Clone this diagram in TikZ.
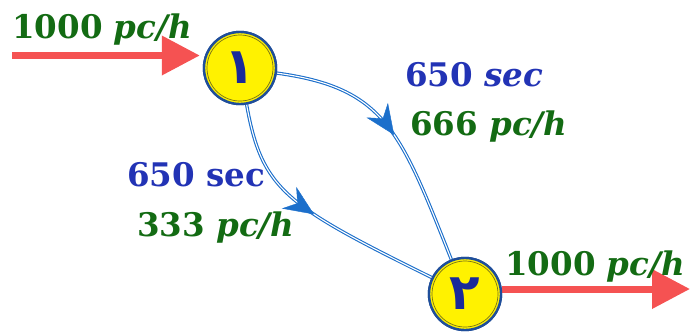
\documentclass[tikz,border=0pt]{standalone}
\usepackage{fontspec}
\setmainfont{DejaVu Serif}
\newfontfamily\arabicfont[Script=Arabic]{DejaVu Sans}
\usetikzlibrary{arrows.meta,decorations.markings}
\definecolor{lblgreen}{HTML}{136B13}
\definecolor{lblblue}{HTML}{2233B5}
\definecolor{edgeblue}{HTML}{1C6FCB}
\definecolor{flowred}{HTML}{F55252}
\definecolor{ringblue}{HTML}{1F4E9A}
\definecolor{digitblue}{HTML}{1A2A9A}
\tikzset{
  lbl/.style={anchor=base west, inner sep=0pt, font=\fontsize{32.5}{36}\selectfont\bfseries},
  junction/.style={circle, fill=yellow, draw=ringblue, line width=2.4pt, minimum size=72pt, inner sep=0pt,
     font=\arabicfont\bfseries\fontsize{50}{54}\selectfont, text=digitblue},
  innerring/.style={draw=olive!80!black, line width=0.7pt},
  edge/.style={draw=edgeblue, line width=1.1pt, double=white, double distance=1.1pt},
  midarrow/.style={decorate, decoration={markings, mark=at position 0.5 with {\arrow[edgeblue]{Stealth[length=30pt,width=26pt,inset=10pt]}}}},
  flow/.style={draw=flowred, line width=7pt, -{Triangle[length=38pt,width=38pt]}},
}
\begin{document}
\begin{tikzpicture}[x=1pt,y=-1pt]
\useasboundingbox (0,0) rectangle (692,333);
\coordinate (in) at (12,55.5);
\coordinate (out) at (690,289);
\node[junction] (n1) at (240,68) {١};
\node[junction] (n2) at (465,294) {٢};
\draw[flow, shorten >=3pt] (in) -- (in -| n1.west);
\draw[flow] (n2.east |- out) -- (out);
\draw[edge] (n1) .. controls (385,88) and (400,130) .. (n2);
\path[midarrow] (n1) .. controls (385,88) and (400,130) .. (n2);
\draw[edge] (n1) .. controls (262,190) and (285,205) .. (n2);
\path[midarrow] (n1) .. controls (262,190) and (285,205) .. (n2);
\node[junction] at (n1) {١};
\node[junction] at (n2) {٢};
\draw[innerring] (n1) circle (33);
\draw[innerring] (n2) circle (33);
\node[lbl, text=lblgreen] (tin) at (12,38) {1000 \textit{pc/h}};
\node[lbl, text=lblblue] (t1) at (405,86) {650 \textit{sec}};
\node[lbl, text=lblgreen] (t2) at (410,135) {666 \textit{pc/h}};
\node[lbl, text=lblblue] (t3) at (127,186) {650 sec};
\node[lbl, text=lblgreen] (t4) at (137,236) {333 \textit{pc/h}};
\node[lbl, text=lblgreen] (tout) at (505,275) {1000 \textit{pc/h}};
\end{tikzpicture}
\end{document}
